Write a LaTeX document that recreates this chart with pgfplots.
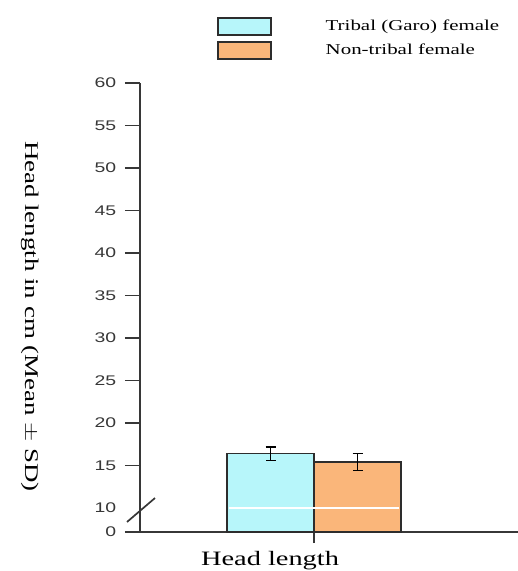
\documentclass[border=0pt]{standalone}
\usepackage{pgfplots}
\pgfplotsset{compat=1.18}
\usepackage{graphicx}
\usepackage{fontspec}
\setmainfont{Liberation Serif}
\newfontfamily\tickfont{Liberation Sans}
\newcommand{\sq}[1]{\scalebox{1}[0.72]{#1}}
\definecolor{tribal}{RGB}{183,246,250}
\definecolor{nontribal}{RGB}{250,182,122}
\definecolor{axisgray}{RGB}{55,55,55}
\definecolor{edge}{RGB}{45,45,45}
\begin{document}
\begin{tikzpicture}
\useasboundingbox (0,0) rectangle (518bp,571bp);
\begin{axis}[
  at={(140bp,39bp)}, anchor=south west,
  scale only axis, width=378bp, height=449bp,
  xmin=-1, xmax=1.172, ymin=7.18, ymax=60,
  axis lines=left, axis line style={-, axisgray, line width=1.7bp},
  clip=false,
  ybar, bar width=0.5,
  tick align=outside,
  xtick={0}, xticklabels={},
  xtick style={axisgray, line width=1.7bp, /pgfplots/major tick length=11bp},
  ytick={7.18,15,20,25,30,35,40,45,50,55,60},
  yticklabels={\sq{0},\sq{15},\sq{20},\sq{25},\sq{30},\sq{35},\sq{40},\sq{45},\sq{50},\sq{55},\sq{60}},
  ytick style={axisgray, line width=1.7bp, /pgfplots/major tick length=15bp},
  extra y ticks={10},
  extra y tick labels={\sq{10}},
  extra y tick style={major tick style={draw=none}},
  yticklabel style={font=\tickfont\fontsize{19.5}{19.5}\selectfont, text=axisgray, xshift=-16bp},
  xlabel={\sq{Head length}},
  every axis x label/.style={at={(axis description cs:0.344,-0.064)}, anchor=center, font=\fontsize{28.5}{28.5}\selectfont},
  ylabel={\sq{Head length in cm (Mean $\pm$ SD)}},
  every axis y label/.style={at={(axis description cs:-0.291,0.48)}, rotate=-90, anchor=center, font=\fontsize{27}{27}\selectfont},
  legend style={at={(axis description cs:0.2037,1.147)}, anchor=north west, draw=none, fill=none, inner sep=0pt, row sep=5.5bp,
    font=\fontsize{21}{21}\selectfont, cells={anchor=west},
    /tikz/every odd column/.style={column sep=52bp}},
  legend image code/.code={\draw[#1, line width=1.5bp] (0bp,-8.5bp) rectangle (53bp,8.5bp);},
  error bars/error bar style={black, line width=1.6bp},
  error bars/error mark options={black, mark size=5bp, line width=1.6bp, rotate=90},
]
\addplot[fill=tribal, draw=edge, line width=1.3bp, bar shift=-0.25,
  error bars/.cd, y dir=both, y explicit]
  coordinates {(0,16.4) +- (0,0.8)};
\addlegendentry{\sq{Tribal (Garo) female}}
\addplot[fill=nontribal, draw=edge, line width=1.3bp, bar shift=0.25,
  error bars/.cd, y dir=both, y explicit]
  coordinates {(0,15.4) +- (0,1.0)};
\addlegendentry{\sq{Non-tribal female}}
\addplot[white, line width=2.2bp, forget plot, sharp plot] coordinates {(-0.49,10) (0.49,10)};
\draw[axisgray, line width=1.7bp] (axis description cs:-0.0344,0.0223) -- (axis description cs:0.0397,0.0757);
\end{axis}
\end{tikzpicture}
\end{document}
